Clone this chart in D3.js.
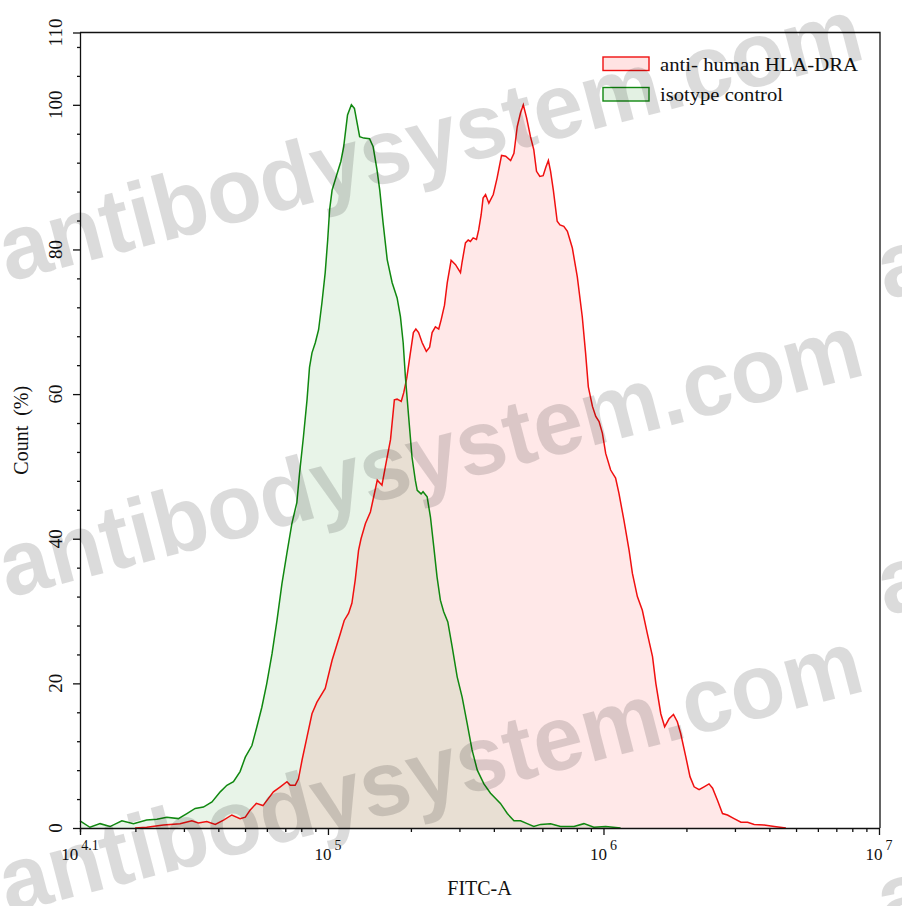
<!DOCTYPE html>
<html><head><meta charset="utf-8">
<script src="https://cdn.jsdelivr.net/npm/d3@7"></script>
<style>body{margin:0;background:#fff}svg{display:block}</style>
</head><body><svg id="c" width="902" height="906"></svg>
<script>
// ---- data (log10 of FITC-A intensity, % of max count) ----
const hlaLog = [4.300,4.342,4.403,4.463,4.506,4.530,4.560,4.591,4.621,4.651,
4.681,4.700,4.718,4.740,4.764,4.784,4.802,4.827,4.851,4.863,
4.881,4.893,4.906,4.924,4.942,4.960,4.990,5.015,5.045,5.059,
5.075,5.087,5.099,5.111,5.120,5.136,5.154,5.166,5.179,5.196,
5.208,5.227,5.241,5.251,5.266,5.275,5.286,5.298,5.310,5.319,
5.329,5.342,5.357,5.369,5.378,5.390,5.402,5.411,5.423,5.433,
5.447,5.463,5.481,5.487,5.499,5.509,5.517,5.527,5.539,5.547,
5.556,5.563,5.572,5.584,5.600,5.614,5.630,5.645,5.663,5.675,
5.687,5.699,5.709,5.721,5.735,5.747,5.757,5.769,5.781,5.791,
5.800,5.808,5.818,5.832,5.842,5.856,5.869,5.887,5.905,5.923,
5.935,5.945,5.960,5.972,5.984,5.996,6.008,6.026,6.044,6.056,
6.074,6.093,6.105,6.123,6.141,6.159,6.178,6.190,6.208,6.222,
6.238,6.254,6.268,6.280,6.299,6.314,6.329,6.347,6.365,6.383,
6.396,6.414,6.432,6.450,6.474,6.499,6.523,6.547,6.583,6.620,
6.662];
const hlaCount = [0,0.1,0.4,0.6,1.0,0.7,0.9,0.5,1.1,1.8,
1.3,1.5,2.5,3.4,3.1,4.1,5.0,5.7,6.4,5.9,
5.9,6.8,9.4,12.6,15.8,17.4,19.3,23.2,26.9,28.7,
29.7,31.1,34.3,38.4,40.0,42.1,43.7,45.8,48.1,47.4,
49.9,53.7,59.2,59.3,59.0,60.2,62.2,65.4,68.5,69.0,
68.5,67.1,65.9,66.5,68.5,69.3,69.0,70.3,72.3,75.4,
78.5,77.9,76.8,78.3,80.9,81.3,81.1,81.6,81.4,82.7,
84.8,87.1,87.6,86.4,87.6,89.9,93.0,92.9,92.3,93.3,
97.0,98.9,100.0,98.2,95.6,93.8,90.8,90.1,90.2,91.4,
92.3,90.8,88.2,83.9,83.4,83.2,82.5,80.2,76.2,70.7,
65.7,61.0,58.3,56.9,56.2,54.6,51.8,49.5,48.4,46.3,
42.6,38.4,35.2,32.0,30.1,26.9,23.7,20.0,15.8,14.0,
15.1,15.7,14.7,13.1,9.8,7.1,5.7,5.3,5.7,6.1,
5.5,3.8,2.0,1.8,1.3,0.8,0.8,0.5,0.4,0.2,
0];
const isoLog = [4.100,4.136,4.173,4.209,4.252,4.294,4.342,4.379,4.415,4.457,
4.488,4.518,4.548,4.579,4.609,4.633,4.657,4.681,4.700,4.724,
4.742,4.760,4.778,4.797,4.815,4.833,4.851,4.869,4.887,4.897,
4.911,4.924,4.933,4.942,4.954,4.966,4.978,4.990,4.999,5.006,
5.015,5.030,5.047,5.057,5.071,5.085,5.096,5.115,5.130,5.151,
5.164,5.178,5.188,5.200,5.215,5.233,5.251,5.263,5.273,5.281,
5.293,5.305,5.317,5.324,5.338,5.345,5.360,5.372,5.384,5.396,
5.408,5.420,5.435,5.451,5.469,5.487,5.505,5.523,5.542,5.566,
5.590,5.626,5.651,5.675,5.699,5.723,5.747,5.772,5.808,5.844,
5.893,5.929,5.965,6.008,6.062];
const isoCount = [1.0,0.1,0.6,0.2,1.0,0.6,1.1,1.2,1.5,1.3,
2.0,2.7,2.9,3.6,5.0,5.9,6.4,7.8,9.8,11.4,
14.0,16.7,20.0,24.1,28.7,33.8,38.0,42.1,45.0,49.1,
54.1,59.2,63.7,65.7,67.1,68.9,72.6,76.8,81.3,85.5,
88.2,90.1,92.2,94.2,98.6,100.0,99.5,95.6,95.4,95.3,
94.2,91.0,88.2,83.7,78.6,75.4,73.3,70.7,67.1,62.4,
56.8,51.3,48.1,46.7,46.2,46.5,45.8,43.0,38.9,34.7,
31.5,29.9,28.5,25.0,20.9,18.1,14.5,10.8,8.0,6.1,
4.8,3.4,2.0,1.0,1.0,0.6,0.2,0.5,0.6,0.2,
0.2,0.6,0.1,0.2,0];
const seriesNames = ["anti- human HLA-DRA", "isotype control"];
const xMajorExps = ["4.1", "5", "6", "7"];
const yMajor = [0, 20, 40, 60, 80, 100, 110];
const yMinor = [4,8,12,16,24,28,32,36,44,48,52,56,64,68,72,76,84,88,92,96,104,108];
const xTitle = "FITC-A";
const yTitle = "Count\u00a0\u00a0(%)";
const watermarkText = "antibodysystem.com";

// ---- drawing ----
const svg = d3.select("#c");
const X0 = 80, X1 = 879, Y0 = 828, Y1 = 32.5;
const x = d3.scaleLog().domain([Math.pow(10, 4.1), 1e7]).range([X0, X1]);
const y = d3.scaleLinear().domain([0, 110]).range([Y0, Y1]);
const serif = "'Liberation Serif','Times New Roman',serif";

function series(logs, counts) { return logs.map((l, i) => ({ v: Math.pow(10, l), c: counts[i] })); }
const hla = series(hlaLog, hlaCount);
const iso = series(isoLog, isoCount);

const area = d3.area().x(d => x(d.v)).y0(y(0)).y1(d => y(d.c));
const line = d3.line().x(d => x(d.v)).y(d => y(d.c));

const red = "#f01010", green = "#108810";
svg.append("path").datum(hla).attr("d", area).attr("fill", "rgba(255,0,0,0.09)");
svg.append("path").datum(iso).attr("d", area).attr("fill", "rgba(0,128,0,0.09)");
svg.append("path").datum(hla).attr("d", line).attr("fill", "none").attr("stroke", red).attr("stroke-width", 1.5);
svg.append("path").datum(iso).attr("d", line).attr("fill", "none").attr("stroke", green).attr("stroke-width", 1.5);

// frame
svg.append("path").attr("d", `M${X0},${Y1}H${X1+1}V${Y0}`).attr("fill", "none").attr("stroke", "#111").attr("stroke-width", 1.3);

// y axis
const gy = svg.append("g").attr("transform", `translate(${X0},0)`);
gy.call(d3.axisLeft(y).tickValues(yMajor).tickSize(7).tickFormat(""));
gy.append("g").call(d3.axisLeft(y).tickValues(yMinor).tickSize(3).tickFormat("")).select(".domain").remove();
gy.selectAll("path.domain").attr("d", `M0.5,${Y0+4}V${Y1}`);
gy.selectAll("line,path").attr("stroke", "#111").attr("stroke-width", 1.3);

yMajor.forEach(v => {
  svg.append("text").attr("transform", `translate(62,${y(v)}) rotate(-90)`)
    .attr("text-anchor", "middle").attr("font-family", serif).attr("font-size", 19)
    .attr("fill", "#111").text(v);
});

// x axis
const minorVals = [];
for (let k = 4; k < 7; k++) for (let m = 2; m <= 9; m++) { const v = m * Math.pow(10, k); if (v > Math.pow(10, 4.1)) minorVals.push(v); }
const majorVals = xMajorExps.map(e => Math.pow(10, +e));
const gx = svg.append("g").attr("transform", `translate(0,${Y0})`);
gx.call(d3.axisBottom(x).tickValues(majorVals).tickSize(7).tickFormat(""));
gx.append("g").call(d3.axisBottom(x).tickValues(minorVals).tickSize(4).tickFormat("")).select(".domain").remove();
gx.selectAll("path.domain").attr("d", `M${X0},0.5H${X1+1}`);
gx.selectAll("line,path").attr("stroke", "#111").attr("stroke-width", 1.3);

xMajorExps.forEach(e => {
  const t = svg.append("text").attr("x", x(Math.pow(10, +e))).attr("y", 860)
    .attr("text-anchor", "middle").attr("font-family", serif).attr("font-size", 17).attr("fill", "#111");
  t.append("tspan").text("10");
  t.append("tspan").attr("dx", 3).attr("dy", -10).attr("font-size", 14).text(e);
});

// axis titles
svg.append("text").attr("x", (X0 + X1) / 2).attr("y", 895).attr("text-anchor", "middle")
  .attr("font-family", serif).attr("font-size", 20).attr("fill", "#111").text(xTitle);
svg.append("text").attr("transform", `translate(28,${(Y0 + Y1) / 2}) rotate(-90)`).attr("text-anchor", "middle")
  .attr("font-family", serif).attr("font-size", 20).attr("fill", "#111").text(yTitle);

// legend
const legend = [
  { name: seriesNames[0], stroke: red, fill: "rgba(255,0,0,0.11)", yy: 57, len: 198 },
  { name: seriesNames[1], stroke: green, fill: "rgba(0,128,0,0.11)", yy: 87.5, len: 123 }
];
legend.forEach(l => {
  svg.append("rect").attr("x", 603).attr("y", l.yy).attr("width", 46).attr("height", 13.5)
    .attr("fill", l.fill).attr("stroke", l.stroke).attr("stroke-width", 1.4);
  svg.append("text").attr("x", 660).attr("y", l.yy + 13.5).attr("font-family", serif)
    .attr("font-size", 19).attr("textLength", l.len).attr("lengthAdjust", "spacingAndGlyphs")
    .attr("fill", "#111").text(l.name);
});

// watermark
const wm = svg.append("g").attr("pointer-events", "none");
[[8, 282], [8, 598], [8, 914], [886, 300], [886, 616], [886, 932]].forEach(([ox, b]) => {
  wm.append("text").attr("transform", `translate(${ox},${b}) rotate(-14.6)`)
    .attr("font-family", "'Liberation Sans',Arial,sans-serif").attr("font-weight", "bold")
    .attr("font-size", 92).attr("textLength", 888).attr("lengthAdjust", "spacingAndGlyphs")
    .attr("fill", "#000").attr("fill-opacity", 0.14).text(watermarkText);
});
</script></body></html>
